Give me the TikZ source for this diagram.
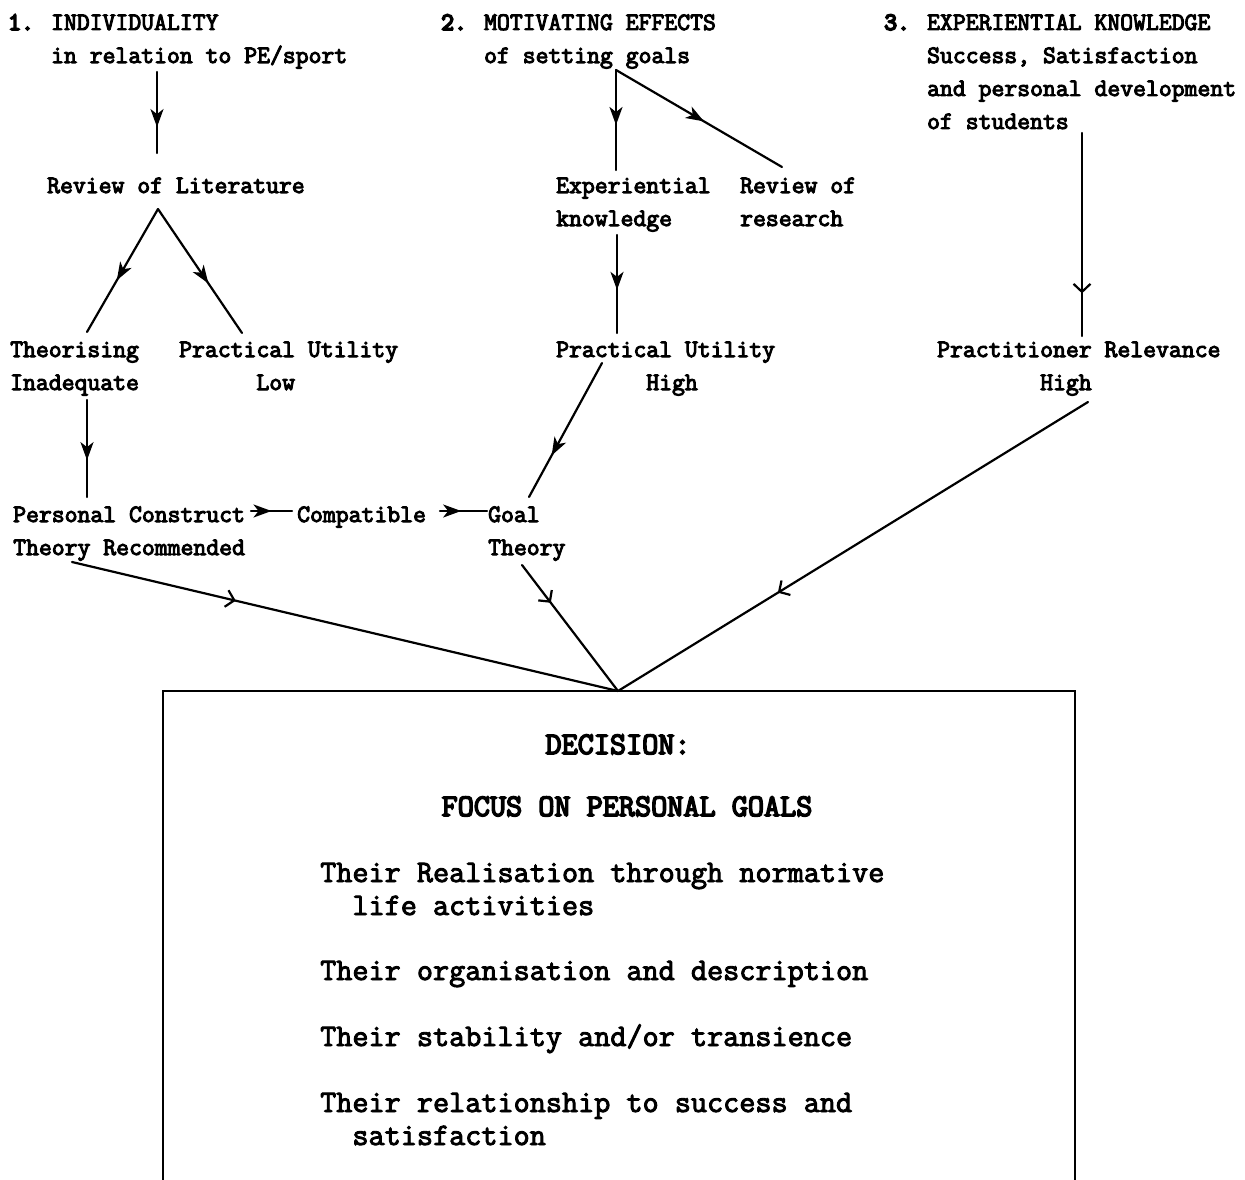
\documentclass[tikz,border=0pt]{standalone}
\usepackage{fontspec}
\usetikzlibrary{arrows.meta,decorations.markings}
% typewriter faces: the chart labels and the decision box
\newfontfamily\upperfont{Latin Modern Mono}[FakeBold=4]
\newfontfamily\numfont{Latin Modern Mono}[FakeBold=7]
\newfontfamily\deskfont{Latin Modern Mono}[FakeBold=3]
\newfontfamily\deskheadfont{Latin Modern Mono}[FakeBold=5]
% left-aligned stack of lines whose baseline is the first line
\newcommand{\stack}[1]{\begin{tabular}[t]{@{}l@{}}#1\end{tabular}}
\newcommand{\num}[1]{{\numfont #1}}
\tikzset{
  lbl/.style={anchor=base west, inner sep=0pt, font=\upperfont\fontsize{25}{33}\selectfont},
  boxtxt/.style={anchor=base west, inner sep=0pt, font=\deskfont\fontsize{31.3}{33}\selectfont},
  boxhead/.style={anchor=base, inner sep=0pt, font=\deskheadfont\fontsize{31.3}{33}\selectfont},
  link/.style={line width=2.2pt, line cap=round},
  fillmid/.style={link, postaction={decorate}, decoration={markings,
      mark=at position #1 with {\arrow{Stealth[length=18pt,width=13pt,inset=5pt]}}}},
  barbmid/.style={link, postaction={decorate}, decoration={markings,
      mark=at position #1 with {\arrow[line width=2.2pt]{Straight Barb[length=8pt,width=17pt]}}}},
}
\begin{document}
\begin{tikzpicture}[x=1pt,y=-1pt]
\useasboundingbox (0,0) rectangle (1245,1180);

% ---- column headings ----
\node[lbl] (indiv) at (8,30) {\stack{\num{1.} INDIVIDUALITY\\\phantom{1. }in relation to PE/sport}};
\node[lbl] (motiv) at (441,30) {\stack{\num{2.} MOTIVATING EFFECTS\\\phantom{2. }of setting goals}};
\node[lbl] (exper) at (884,30) {\stack{\num{3.} EXPERIENTIAL KNOWLEDGE\\\phantom{3. }Success, Satisfaction\\\phantom{3. }and personal development\\\phantom{3. }of students}};

% ---- second level ----
\node[lbl] (lit) at (47,193) {Review of Literature};
\node[lbl] (expk) at (556,193) {\stack{Experiential\\knowledge}};
\node[lbl] (resr) at (740,193) {\stack{Review of\\research}};

% ---- third level ----
\node[lbl] (theo) at (10,357) {\stack{Theorising\\Inadequate}};
\node[lbl] (pulow) at (179,357) {\stack{Practical Utility\\\phantom{xxxxxx}Low}};
\node[lbl] (puhigh) at (556,357) {\stack{Practical Utility\\\phantom{xxxxxxx}High}};
\node[lbl] (prel) at (937,357) {\stack{Practitioner Relevance\\\phantom{xxxxxxxx}High}};

% ---- fourth level ----
\node[lbl] (pct) at (13,522) {\stack{Personal Construct\\Theory Recommended}};
\node[lbl] (compat) at (297,522) {Compatible};
\node[lbl] (goal) at (488,522) {\stack{Goal\\Theory}};

% ---- connector end points ----
\coordinate (indiv-out) at (157,72);
\coordinate (lit-in) at (157,153);
\coordinate (lit-out) at (158,209);
\coordinate (theo-in) at (87,332);
\coordinate (pulow-in) at (242,333);
\coordinate (theo-out) at (87,400);
\coordinate (pct-in) at (87,497);
\coordinate (motiv-out) at (616,70);
\coordinate (expk-in) at (616,170);
\coordinate (resr-in) at (782,167);
\coordinate (expk-out) at (617,235);
\coordinate (puhigh-in) at (617,333);
\coordinate (puhigh-out) at (602,363);
\coordinate (goal-in) at (529,497);
\coordinate (exper-out) at (1082,133);
\coordinate (prel-in) at (1082,336);
\coordinate (pct-east) at (251,511);
\coordinate (compat-west) at (292,511);
\coordinate (compat-east) at (440,511);
\coordinate (goal-west) at (487,511);
\coordinate (pct-out) at (72,562);
\coordinate (goal-out) at (522,565);
\coordinate (prel-out) at (1088,402);
\coordinate (decision) at (618,691);

% ---- connectors ----
\draw[fillmid=0.68] (indiv-out) -- (lit-in);
\draw[fillmid=0.58] (lit-out) -- (theo-in);
\draw[fillmid=0.60] (lit-out) -- (pulow-in);
\draw[fillmid=0.62] (theo-out) -- (pct-in);
\draw[fillmid=0.55] (motiv-out) -- (expk-in);
\draw[fillmid=0.53] (motiv-out) -- (resr-in);
\draw[fillmid=0.56] (expk-out) -- (puhigh-in);
\draw[fillmid=0.69] (puhigh-out) -- (goal-in);
\draw[barbmid=0.79] (exper-out) -- (prel-in);
\draw[fillmid=0.50] (pct-east) -- (compat-west);
\draw[fillmid=0.45] (compat-east) -- (goal-west);
\draw[barbmid=0.30] (pct-out) -- (decision);
\draw[barbmid=0.30] (goal-out) -- (decision);
\draw[barbmid=0.66] (prel-out) -- (decision);

% ---- decision box (open at the foot) ----
\draw[line width=2.6pt] (163,1180) -- (163,691) -- (1075,691) -- (1075,1180);
\node[boxhead] (dec) at (618,754) {DECISION:};
\node[boxhead] (focus) at (627,816) {FOCUS ON PERSONAL GOALS};
\node[boxtxt] (g1) at (320,882) {\stack{Their Realisation through normative\\\phantom{xx}life activities}};
\node[boxtxt] (g2) at (320,980) {Their organisation and description};
\node[boxtxt] (g3) at (320,1046) {Their stability and/or transience};
\node[boxtxt] (g4) at (320,1112) {\stack{Their relationship to success and\\\phantom{xx}satisfaction}};
\end{tikzpicture}
\end{document}
